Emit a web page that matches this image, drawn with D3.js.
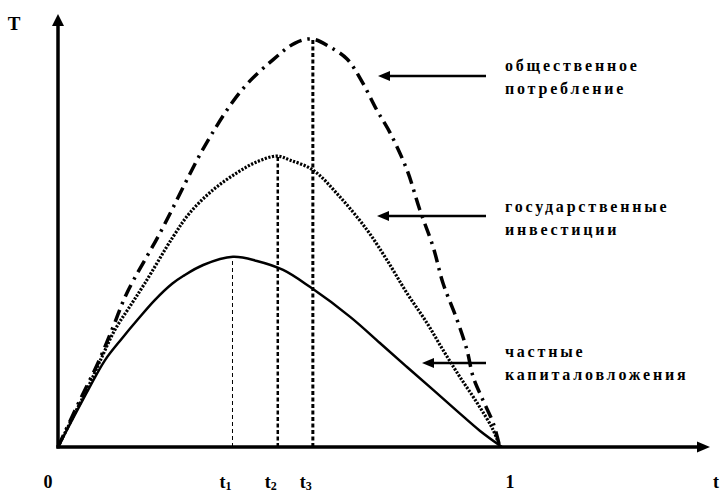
<!DOCTYPE html>
<html><head><meta charset="utf-8">
<script src="https://cdn.jsdelivr.net/npm/d3@7/dist/d3.min.js"></script>
<style>body{margin:0;background:#fff}svg{display:block}</style>
</head><body><svg id="c" width="722" height="492"></svg>
<script>
// t (share, 0..1) vs T (relative units, peak of public consumption = 100)
const publicConsumption = [[0,0],[0.045,10.5],[0.09,20.6],[0.124,29.4],[0.155,37.7],[0.23,52.5],[0.336,74.8],[0.414,87.5],[0.484,94.9],[0.534,99.0],[0.572,100],[0.613,98.0],[0.651,95.1],[0.685,89.5],[0.718,82.6],[0.748,77.0],[0.786,67.9],[0.815,58.1],[0.845,49.0],[0.867,40.2],[0.899,31.1],[0.921,23.8],[0.935,17.2],[0.957,11.5],[0.98,5.9],[0.995,0]];
const stateInvestment = [[0,0],[0.038,8.3],[0.068,14.7],[0.099,22.1],[0.128,28.7],[0.158,33.8],[0.196,40.2],[0.259,51.5],[0.297,57.4],[0.349,63.0],[0.403,67.2],[0.448,69.9],[0.493,71.3],[0.523,70.3],[0.574,67.9],[0.635,61.3],[0.696,53.2],[0.741,45.8],[0.786,37.7],[0.831,30.4],[0.867,23.8],[0.905,17.2],[0.944,10.8],[0.98,4.2],[0.995,0]];
const privateInvestment = [[0,0],[0.068,14.0],[0.106,21.3],[0.144,26.6],[0.180,31.3],[0.218,36.0],[0.257,40.0],[0.282,41.9],[0.327,44.6],[0.394,46.6],[0.448,45.6],[0.507,43.4],[0.568,39.2],[0.658,31.9],[0.725,25.5],[0.786,19.6],[0.845,14.0],[0.899,8.8],[0.95,4.0],[1,0]];
const peaks = [{name:"t",sub:"1",t:0.393,T:46.6},{name:"t",sub:"2",t:0.495,T:71.3},{name:"t",sub:"3",t:0.574,T:100}];
const seriesLabels = [["общественное","потребление"],["государственные","инвестиции"],["частные","капиталовложения"]];
</script>
<script>
const FONT = '"Liberation Serif","Times New Roman",Times,"DejaVu Serif",serif';
const svg = d3.select("#c");
const x = d3.scaleLinear().domain([0,1]).range([58,502]);
const y = d3.scaleLinear().domain([0,100]).range([447,39]);
const line = d3.line().x(d=>x(d[0])).y(d=>y(d[1])).curve(d3.curveCatmullRom.alpha(0.5));
const txt = (xx,yy,size)=>svg.append("text").attr("x",xx).attr("y",yy).attr("font-family",FONT).attr("font-weight","bold").attr("font-size",size).attr("fill","#000");

// peak verticals
const vs = [{w:1,dash:"4,3"},{w:2.5,dash:"4,2.5"},{w:3,dash:"4,2.5"}];
peaks.forEach((p,i)=>{
  svg.append("line").attr("x1",x(p.t)).attr("x2",x(p.t)).attr("y1",y(0)).attr("y2",y(p.T))
    .attr("stroke","#000").attr("stroke-width",vs[i].w).attr("stroke-dasharray",vs[i].dash);
});

svg.append("path").attr("d",line(privateInvestment)).attr("fill","none").attr("stroke","#000").attr("stroke-width",2.5);
svg.append("path").attr("d",line(stateInvestment)).attr("fill","none").attr("stroke","#000").attr("stroke-width",3.2).attr("stroke-dasharray","2.2,1.5");
svg.append("path").attr("d",line(publicConsumption)).attr("fill","none").attr("stroke","#000").attr("stroke-width",3.5).attr("stroke-dasharray","13,6,2.5,6");

// axes
const ax0 = x(0), ay0 = y(0);
svg.append("line").attr("x1",ax0).attr("x2",ax0).attr("y1",ay0+1.5).attr("y2",24).attr("stroke","#000").attr("stroke-width",3.5);
svg.append("path").attr("d",`M${ax0},14 L${ax0-6},26 L${ax0+6},26 Z`).attr("fill","#000");
svg.append("line").attr("x1",ax0-1.5).attr("x2",700).attr("y1",ay0).attr("y2",ay0).attr("stroke","#000").attr("stroke-width",3.5);
svg.append("path").attr("d",`M710,${ay0} L697,${ay0-5.5} L697,${ay0+5.5} Z`).attr("fill","#000");

// axis labels
txt(14,30,19).attr("text-anchor","middle").text("T");
txt(48,488,18).attr("text-anchor","middle").text("0");
txt(x(1)+8,488,18).attr("text-anchor","middle").text("1");
txt(716,488,18).attr("text-anchor","middle").text("t");
peaks.forEach(p=>{
  const tx = txt(x(p.t)-13,488,18);
  tx.append("tspan").text(p.name);
  tx.append("tspan").attr("font-size",12).attr("dy",2).text(p.sub);
});

// series labels with arrows
const arrowY = [76,216,363], arrowTip=[378,377,422];
seriesLabels.forEach((lines,i)=>{
  const ya = arrowY[i];
  svg.append("line").attr("x1",486).attr("x2",arrowTip[i]+9).attr("y1",ya).attr("y2",ya).attr("stroke","#000").attr("stroke-width",2.5);
  svg.append("path").attr("d",`M${arrowTip[i]},${ya} L${arrowTip[i]+12},${ya-5} L${arrowTip[i]+12},${ya+5} Z`).attr("fill","#000");
  const base = [71,212,357][i];
  lines.forEach((s,j)=>{
    txt(505,base+j*22.5,16).attr("letter-spacing",2.8).text(s);
  });
});
</script>
</body></html>
